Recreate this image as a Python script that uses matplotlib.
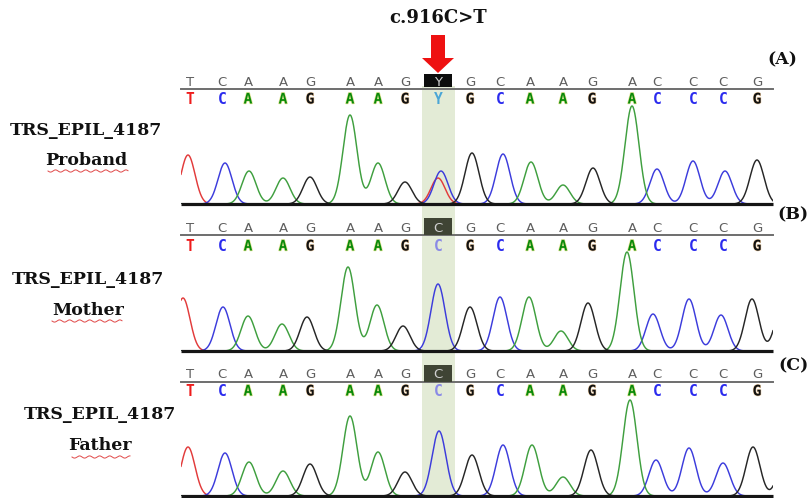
import numpy as np
import matplotlib
matplotlib.use('Agg')
import matplotlib.pyplot as plt
import matplotlib.transforms as mtransforms
from matplotlib.patches import Rectangle, Polygon
import matplotlib.patheffects as pe

# ---------------- data ----------------
ref_A = list("TCAAGAAGYGCAAGACCCG")
call_A = list("TCAAGAAGYGCAAGACCCG")
ref_B = list("TCAAGAAGCGCAAGACCCG")
call_B = list("TCAAGAAGCGCAAGACCCG")
ref_C = list("TCAAGAAGCGCAAGACCCG")
call_C = list("TCAAGAAGCGCAAGACCCG")
base_pos = [190, 222, 248, 283, 310, 350, 378, 405, 438, 470,
            500, 530, 563, 592, 632, 657, 693, 723, 757]
mut_index = 8

peaks_A_base = ['T', 'C', 'A', 'A', 'G', 'A', 'A', 'G', 'C', 'T', 'G', 'C', 'A', 'A', 'G', 'A', 'C', 'C', 'C', 'G']
peaks_A_pos = [188, 225, 249, 283, 310, 350, 378, 405, 441, 438, 472, 503, 531, 563, 593, 632, 657, 693, 725, 757]
peaks_A_h = [49, 41, 33, 26, 27, 89, 41, 22, 33, 26, 51, 50, 42, 19, 36, 98, 35, 43, 33, 44]

peaks_B_base = ['T', 'C', 'A', 'A', 'G', 'A', 'A', 'G', 'C', 'G', 'C', 'A', 'A', 'G', 'A', 'C', 'C', 'C', 'G', 'G']
peaks_B_pos = [183, 223, 248, 282, 307, 348, 377, 403, 438, 470, 500, 529, 561, 588, 627, 653, 689, 721, 752, 782]
peaks_B_h = [53, 44, 35, 27, 34, 84, 46, 25, 67, 44, 54, 54, 20, 48, 99, 37, 52, 36, 52, 45]

peaks_C_base = ['T', 'C', 'A', 'A', 'G', 'A', 'A', 'G', 'C', 'G', 'C', 'A', 'A', 'G', 'A', 'C', 'C', 'C', 'G', 'G']
peaks_C_pos = [188, 225, 249, 283, 310, 350, 378, 405, 439, 472, 503, 532, 563, 591, 630, 656, 689, 723, 753, 785]
peaks_C_h = [49, 43, 34, 25, 32, 80, 44, 24, 65, 41, 51, 51, 19, 46, 96, 36, 48, 33, 49, 40]

sample_ids = ["TRS_EPIL_4187", "TRS_EPIL_4187", "TRS_EPIL_4187"]
sample_roles = ["Proband", "Mother", "Father"]
panel_tags = ["(A)", "(B)", "(C)"]
mutation_label = "c.916C>T"

# ---------------- style ----------------
trace_colors = {'T': '#e23b3b', 'C': '#3c3cdc', 'A': '#3f9f3f', 'G': '#262626'}
call_colors = {'T': '#ee1c1c', 'C': '#2b2bee', 'A': '#0a8a0a', 'G': '#111111', 'Y': '#4aa6d6'}
serif = 'DejaVu Serif'

W, H = 810, 498
fig = plt.figure(figsize=(W / 100, H / 100), dpi=100)
ax0 = fig.add_axes([0, 0, 1, 1], zorder=0)
ax0.set_xlim(0, W)
ax0.set_ylim(H, 0)
ax0.axis('off')

x0, x1 = 181, 773
layout = [
    dict(baseline=204, ref_y=82, line_y=89, call_y=99, box=(74, 87), box_color='#0d0d0d',
         tag_xy=(782, 60), id_xy=(86, 130), role_y=160, wave=(48, 128, 171)),
    dict(baseline=351, ref_y=228, line_y=235, call_y=246, box=(218, 235), box_color='#3f4434',
         tag_xy=(793, 215), id_xy=(88, 279), role_y=310, wave=(52, 122, 321)),
    dict(baseline=496, ref_y=374, line_y=382, call_y=391, box=(365, 382), box_color='#3f4434',
         tag_xy=(793, 366), id_xy=(100, 414), role_y=445, wave=(72, 130, 457)),
]
refs = [ref_A, ref_B, ref_C]
calls = [call_A, call_B, call_C]
peaks = [(peaks_A_base, peaks_A_pos, peaks_A_h),
         (peaks_B_base, peaks_B_pos, peaks_B_h),
         (peaks_C_base, peaks_C_pos, peaks_C_h)]

sigma = 7.0
xs = np.linspace(x0, x1, 1500)
TH = 112  # trace axis height in px

axes = []
for i, L in enumerate(layout):
    b = L['baseline']
    ax = fig.add_axes([x0 / W, (H - b) / H, (x1 - x0) / W, TH / H], zorder=2)
    ax.set_xlim(x0, x1)
    ax.set_ylim(0, TH)
    ax.patch.set_visible(False)
    ax.axis('off')
    axes.append(ax)
    bases, pos, hts = peaks[i]
    for base in ['T', 'C', 'A', 'G']:
        y = np.zeros_like(xs)
        for bb, p, h in zip(bases, pos, hts):
            if bb == base:
                y += h * np.exp(-(xs - p) ** 2 / (2 * sigma ** 2))
        ax.plot(xs, y, color=trace_colors[base], lw=1.05, zorder=2)
    ax.plot([0, 1], [0, 0], transform=ax.transAxes, color='#151515', lw=2.3,
            clip_on=False, zorder=3, solid_capstyle='butt')

# highlight column through all panels
tr_hl = mtransforms.blended_transform_factory(axes[0].transData, ax0.transData)
mx = base_pos[mut_index]
ax0.add_patch(Rectangle((mx - 16, 86), 33, H - 86, transform=tr_hl,
                        facecolor='#e3ebd6', edgecolor='none', zorder=0))

for i, L in enumerate(layout):
    ax = axes[i]
    tr = mtransforms.blended_transform_factory(ax.transData, ax0.transData)
    # grey separator line
    ax0.plot([0, 1], [L['line_y']] * 2,
             transform=mtransforms.blended_transform_factory(ax.transAxes, ax0.transData),
             color='#6e6e6e', lw=1.4, zorder=2)
    # box behind mutated reference base
    ax0.add_patch(Rectangle((mx - 14, L['box'][0]), 28, L['box'][1] - L['box'][0],
                            transform=tr, facecolor=L['box_color'], edgecolor='none', zorder=3))
    for j, (rb, cb) in enumerate(zip(refs[i], calls[i])):
        xp = base_pos[j]
        rc = '#d0d0d0' if j == mut_index else '#5e5e5e'
        ax0.text(xp, L['ref_y'], rb, transform=tr, ha='center', va='center',
                 fontsize=9.5, color=rc, family='DejaVu Sans', zorder=4)
        cc = call_colors[cb]
        if j == mut_index and cb == 'C':
            cc = '#8a8ae6'
        t = ax0.text(xp, L['call_y'], cb, transform=tr, ha='center', va='center',
                     fontsize=10.5, color=cc, family='DejaVu Sans Mono',
                     fontweight='bold', zorder=4)
        if cb == 'A':
            t.set_path_effects([pe.withStroke(linewidth=1.0, foreground='#e6e69a')])
        elif cb == 'G':
            t.set_path_effects([pe.withStroke(linewidth=0.8, foreground='#e8c9a0')])
    # panel tag
    ax0.text(L['tag_xy'][0], L['tag_xy'][1], panel_tags[i], ha='center', va='center',
             fontsize=12.5, fontweight='bold', family=serif, color='#111')
    # sample labels
    ax0.text(L['id_xy'][0], L['id_xy'][1], sample_ids[i], ha='center', va='center',
             fontsize=12.5, fontweight='bold', family=serif, color='#111')
    ax0.text(L['id_xy'][0], L['role_y'], sample_roles[i], ha='center', va='center',
             fontsize=12.5, fontweight='bold', family=serif, color='#111')
    wx0, wx1, wy = L['wave']
    wxs = np.linspace(wx0, wx1, 200)
    ax0.plot(wxs, wy + 1.1 * np.sin((wxs - wx0) / 1.6), color='#e04848', lw=0.7, zorder=2)

# mutation label and arrow
ax0.text(mx, 18, mutation_label, ha='center', va='center', fontsize=13,
         fontweight='bold', family=serif, color='#111')
arrow = Polygon([(mx - 7, 35), (mx + 7, 35), (mx + 7, 58), (mx + 16, 58),
                 (mx, 73), (mx - 16, 58), (mx - 7, 58)], closed=True,
                transform=tr_hl, facecolor='#ee1111', edgecolor='none', zorder=5)
ax0.add_patch(arrow)

fig.savefig('out.png', dpi=100, facecolor='white')
